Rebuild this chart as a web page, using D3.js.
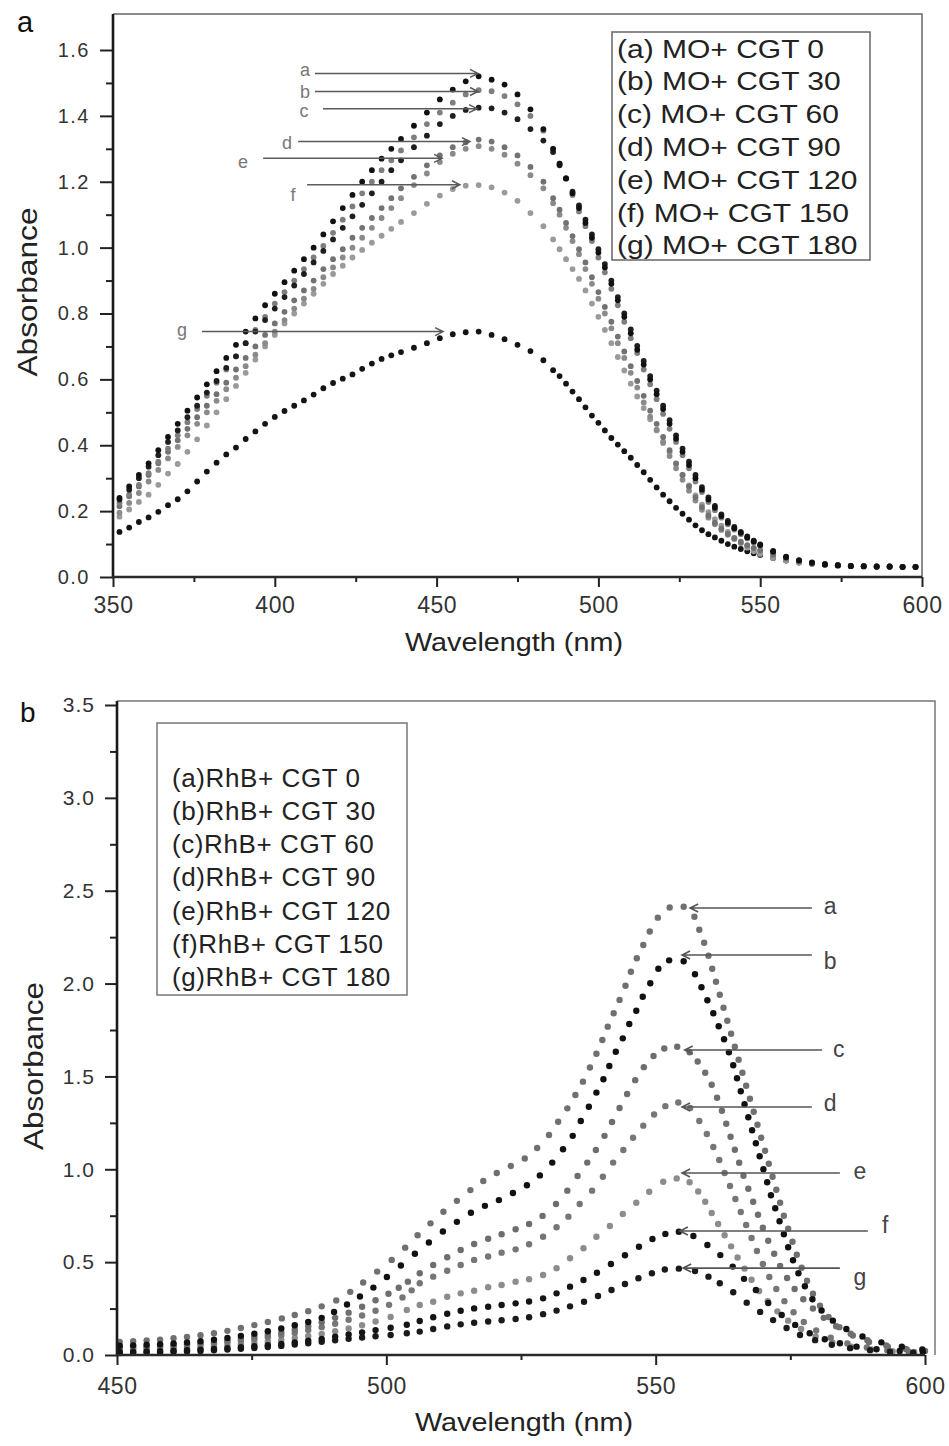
<!DOCTYPE html>
<html>
<head>
<meta charset="utf-8">
<script src="https://cdn.jsdelivr.net/npm/d3@7"></script>
<style>
body { margin: 0; background: #fff; }
svg { display: block; }
text { font-family: "Liberation Sans", Arial, sans-serif; }
</style>
</head>
<body>
<div id="plot"></div>
<script>
// ---------- panel a : MO spectra (shared wavelength grid) ----------
const moWave = [352,355,358,361,364,367,370,373,376,379,382,385,388,391,394,397,400,403,406,409,412,415,418,421,424,427,430,433,436,439,
  443,447,451,455,459,463,467,471,475,479,483,
  486,488,490,492,494,496,498,500,502,504,506,508,510,512,514,516,518,520,522,524,526,528,530,532,534,536,538,540,542,544,546,548,550,
  554,558,562,566,570,574,578,582,586,590,594,598];

const moA = [0.24,0.275,0.31,0.345,0.385,0.425,0.465,0.505,0.545,0.585,0.625,0.665,0.705,0.745,0.785,0.825,0.86,0.895,0.93,0.965,1.0,1.04,1.08,1.12,1.16,1.2,1.235,1.27,1.30,1.33,
  1.37,1.41,1.45,1.48,1.505,1.52,1.51,1.495,1.465,1.42,1.36,
  1.30,1.255,1.21,1.165,1.12,1.075,1.03,0.985,0.94,0.89,0.84,0.79,0.74,0.69,0.645,0.60,0.555,0.51,0.465,0.42,0.38,0.34,0.30,0.265,0.235,0.21,0.185,0.165,0.148,0.134,0.12,0.108,0.097,
  0.077,0.06,0.05,0.043,0.038,0.035,0.033,0.032,0.031,0.031,0.03,0.03];
const moB = [0.225,0.25,0.28,0.315,0.35,0.39,0.43,0.47,0.51,0.55,0.59,0.63,0.67,0.71,0.75,0.79,0.83,0.865,0.9,0.935,0.97,1.005,1.045,1.085,1.125,1.165,1.2,1.235,1.265,1.295,
  1.335,1.375,1.41,1.44,1.465,1.478,1.475,1.46,1.435,1.40,1.355,
  1.30,1.255,1.21,1.16,1.11,1.065,1.02,0.97,0.925,0.875,0.825,0.775,0.725,0.68,0.63,0.585,0.54,0.495,0.45,0.41,0.37,0.33,0.29,0.258,0.228,0.203,0.18,0.16,0.144,0.13,0.117,0.105,0.095,
  0.076,0.059,0.049,0.043,0.038,0.035,0.033,0.032,0.031,0.031,0.03,0.03];
const moC = [0.235,0.265,0.30,0.335,0.37,0.41,0.445,0.485,0.52,0.56,0.595,0.635,0.67,0.71,0.745,0.78,0.815,0.85,0.885,0.92,0.955,0.99,1.025,1.06,1.095,1.13,1.165,1.20,1.235,1.265,
  1.305,1.34,1.375,1.40,1.418,1.425,1.423,1.41,1.39,1.36,1.325,
  1.29,1.25,1.21,1.17,1.128,1.085,1.04,0.995,0.95,0.90,0.85,0.80,0.752,0.702,0.656,0.61,0.566,0.52,0.476,0.43,0.39,0.35,0.31,0.273,0.242,0.216,0.19,0.17,0.152,0.137,0.123,0.11,0.099,
  0.079,0.062,0.051,0.044,0.039,0.036,0.034,0.033,0.032,0.032,0.031,0.031];
const moD = [0.215,0.245,0.275,0.31,0.345,0.38,0.415,0.45,0.485,0.52,0.555,0.59,0.63,0.665,0.70,0.735,0.77,0.805,0.84,0.87,0.90,0.935,0.965,0.995,1.03,1.06,1.09,1.12,1.15,1.18,
  1.215,1.25,1.28,1.305,1.32,1.328,1.322,1.305,1.28,1.245,1.20,
  1.15,1.115,1.075,1.035,0.995,0.955,0.91,0.865,0.82,0.775,0.73,0.685,0.64,0.595,0.55,0.505,0.465,0.425,0.385,0.345,0.31,0.275,0.242,0.212,0.187,0.165,0.147,0.131,0.118,0.107,0.097,0.088,0.081,
  0.068,0.057,0.049,0.043,0.039,0.036,0.034,0.033,0.032,0.032,0.031,0.031];
const moE = [0.195,0.225,0.255,0.29,0.325,0.36,0.395,0.43,0.465,0.50,0.535,0.57,0.605,0.64,0.675,0.71,0.745,0.78,0.815,0.845,0.875,0.91,0.94,0.97,1.0,1.03,1.06,1.09,1.12,1.15,
  1.19,1.225,1.26,1.285,1.30,1.308,1.30,1.282,1.255,1.22,1.18,
  1.135,1.10,1.06,1.02,0.98,0.935,0.89,0.845,0.80,0.755,0.71,0.665,0.62,0.575,0.53,0.487,0.447,0.407,0.367,0.33,0.295,0.262,0.232,0.204,0.18,0.16,0.143,0.128,0.115,0.104,0.095,0.087,0.08,
  0.067,0.056,0.048,0.043,0.039,0.036,0.034,0.033,0.032,0.032,0.031,0.031];
const moF = [0.183,0.205,0.228,0.25,0.28,0.314,0.343,0.38,0.418,0.46,0.50,0.54,0.58,0.62,0.66,0.70,0.735,0.77,0.80,0.83,0.86,0.89,0.92,0.945,0.97,0.993,1.015,1.036,1.057,1.078,
  1.105,1.133,1.158,1.178,1.188,1.19,1.183,1.167,1.142,1.105,1.065,
  1.025,0.995,0.965,0.935,0.905,0.87,0.83,0.79,0.75,0.71,0.668,0.627,0.587,0.548,0.513,0.479,0.445,0.412,0.378,0.343,0.31,0.278,0.248,0.22,0.197,0.176,0.156,0.137,0.119,0.103,0.089,0.078,0.07,
  0.058,0.05,0.044,0.04,0.037,0.035,0.034,0.033,0.032,0.032,0.031,0.031];
const moG = [0.137,0.150,0.167,0.181,0.198,0.218,0.236,0.26,0.29,0.32,0.347,0.372,0.393,0.419,0.442,0.465,0.486,0.504,0.52,0.536,0.554,0.573,0.589,0.602,0.615,0.632,0.648,0.662,0.673,0.683,
  0.696,0.71,0.725,0.737,0.743,0.745,0.735,0.722,0.705,0.686,0.658,
  0.628,0.61,0.587,0.563,0.54,0.515,0.49,0.468,0.445,0.422,0.402,0.382,0.362,0.34,0.318,0.295,0.272,0.25,0.23,0.21,0.192,0.174,0.157,0.142,0.13,0.12,0.11,0.1,0.092,0.085,0.078,0.072,0.067,
  0.058,0.05,0.044,0.04,0.037,0.035,0.034,0.033,0.032,0.032,0.031,0.031];

const moLegend = ["(a) MO+ CGT 0","(b) MO+ CGT 30","(c) MO+ CGT 60","(d) MO+ CGT 90","(e) MO+ CGT 120","(f) MO+ CGT 150","(g) MO+ CGT 180"];
const moXTicks = [350,400,450,500,550,600];
const moYTicks = [0,0.2,0.4,0.6,0.8,1.0,1.2,1.4,1.6];
// arrow annotations: label, start wavelength, tip wavelength, absorbance, label position
const moArrows = [
  {k:"a", x1:412.4, x2:462.8, y:1.529, lx:409.3, ly:1.541},
  {k:"b", x1:412.4, x2:462.8, y:1.474, lx:409.3, ly:1.474},
  {k:"c", x1:414.9, x2:462.5, y:1.422, lx:409.0, ly:1.416},
  {k:"d", x1:407.2, x2:460.3, y:1.322, lx:403.8, ly:1.319},
  {k:"e", x1:396.4, x2:451.7, y:1.271, lx:390.2, ly:1.261},
  {k:"f", x1:410.0, x2:457.2, y:1.191, lx:405.6, ly:1.161},
  {k:"g", x1:377.5, x2:452.0, y:0.745, lx:371.3, ly:0.751}
];

// ---------- panel b : RhB spectra ([wavelength, absorbance]) ----------
const rhbA = [[450.5,0.07],[453,0.074],[455.5,0.078],[458,0.083],[460.5,0.09],[463,0.097],[465.5,0.106],[468,0.117],[470.5,0.13],[473,0.145],[475.5,0.161],[478,0.178],[480.6,0.197],[483,0.215],[485.5,0.236],[488,0.262],[490.7,0.294],[493.3,0.34],[495.7,0.39],[498.3,0.449],[501,0.512],[503.5,0.578],[505.8,0.645],[508.2,0.709],[510.6,0.771],[513.1,0.83],[515.6,0.888],[518,0.937],[520.5,0.98],[523.1,1.018],[525.7,1.058],[528,1.115],[530.2,1.185],[531.9,1.256],[533.6,1.328],[535.1,1.4],[536.5,1.472],[537.8,1.548],[539,1.622],[540.1,1.696],[541.1,1.768],[542.2,1.84],[543.3,1.912],[544.4,1.988],[545.4,2.064],[546.5,2.136],[547.7,2.208],[548.9,2.28],[550.4,2.355],[552.6,2.41],[555.2,2.414],[557.2,2.36],[558.1,2.29],[559,2.22],[559.8,2.15],[560.5,2.08],[561.2,2.01],[561.9,1.94],[562.6,1.87],[563.3,1.80],[564,1.73],[564.7,1.66],[565.4,1.59],[566.1,1.52],[566.8,1.45],[567.5,1.38],[568.2,1.31],[568.9,1.24],[569.6,1.17],[570.3,1.10],[571,1.03],[571.7,0.96],[572.4,0.89],[573.1,0.82],[573.8,0.75],[574.6,0.68],[575.4,0.61],[576.2,0.54],[577.1,0.47],[578.1,0.40],[579.2,0.33],[580.5,0.265],[582.1,0.205],[584.1,0.15],[586.6,0.105],[589.6,0.07],[593.1,0.045],[596.6,0.03],[599.8,0.022]];
const rhbB = [[450.5,0.05],[453,0.052],[455.5,0.055],[458,0.058],[460.5,0.062],[463,0.067],[465.5,0.074],[468,0.082],[470.5,0.092],[473,0.103],[475.5,0.115],[478,0.128],[480.5,0.143],[483,0.16],[485.5,0.178],[488,0.2],[490.3,0.232],[492.7,0.272],[495.1,0.315],[497.6,0.363],[500.1,0.42],[502.7,0.482],[505.3,0.545],[507.9,0.606],[510.5,0.665],[513.1,0.717],[515.7,0.766],[518.3,0.803],[520.9,0.834],[523.5,0.872],[526.1,0.914],[528.5,0.967],[530.8,1.036],[532.8,1.108],[534.6,1.18],[536.1,1.26],[537.6,1.337],[539,1.413],[540.3,1.485],[541.4,1.556],[542.6,1.633],[543.9,1.705],[545.1,1.782],[546.4,1.854],[547.6,1.929],[549,2.002],[550.5,2.08],[552.5,2.125],[555.2,2.12],[557.3,2.05],[558.5,1.98],[559.6,1.91],[560.7,1.84],[561.7,1.77],[562.7,1.70],[563.6,1.63],[564.4,1.56],[565.1,1.49],[565.8,1.42],[566.5,1.35],[567.2,1.28],[567.9,1.21],[568.6,1.14],[569.3,1.07],[570,1.0],[570.7,0.93],[571.4,0.86],[572.2,0.79],[573,0.72],[573.8,0.65],[574.6,0.58],[575.5,0.51],[576.5,0.44],[577.7,0.37],[579.1,0.30],[580.8,0.24],[582.9,0.185],[585.4,0.14],[588.4,0.10],[591.9,0.068],[595.7,0.045],[599.5,0.03]];
const rhbC = [[450.5,0.042],[453,0.044],[455.5,0.046],[458,0.049],[460.5,0.053],[463,0.058],[465.5,0.064],[468,0.071],[470.5,0.079],[473,0.088],[475.5,0.098],[478,0.109],[480.5,0.122],[483,0.137],[485.5,0.155],[488,0.176],[490.5,0.2],[493,0.228],[495.5,0.26],[498,0.295],[500.4,0.33],[502.3,0.362],[504,0.395],[506.2,0.44],[508.7,0.485],[511.3,0.526],[513.8,0.565],[516.3,0.598],[518.9,0.626],[521.4,0.65],[524,0.677],[526.5,0.705],[529,0.749],[531.5,0.813],[533.6,0.885],[535.5,0.964],[537.3,1.036],[538.9,1.104],[540.5,1.18],[541.9,1.255],[543.3,1.33],[544.7,1.405],[546.2,1.48],[547.8,1.55],[549.6,1.61],[551.6,1.65],[554,1.66],[556.3,1.63],[557.8,1.58],[559.2,1.52],[560.4,1.455],[561.4,1.385],[562.3,1.315],[563.1,1.245],[563.9,1.175],[564.7,1.105],[565.5,1.035],[566.3,0.965],[567.2,0.895],[568.1,0.825],[569,0.755],[569.9,0.685],[570.9,0.615],[572,0.545],[573.1,0.48],[574.4,0.415],[575.8,0.355],[577.4,0.30],[579.2,0.25],[581.2,0.2],[583.5,0.155],[586.2,0.115],[589.3,0.08],[592.8,0.052],[596.4,0.033],[600,0.022]];
const rhbD = [[450.5,0.036],[453,0.038],[455.5,0.04],[458,0.043],[460.5,0.046],[463,0.05],[465.5,0.055],[468,0.061],[470.5,0.068],[473,0.076],[475.5,0.085],[478,0.095],[480.5,0.106],[483,0.119],[485.5,0.134],[488,0.15],[490.5,0.168],[493,0.19],[495.5,0.213],[498,0.238],[500.5,0.27],[503,0.31],[504.7,0.348],[506.2,0.386],[508.7,0.422],[511.3,0.454],[513.8,0.485],[516.3,0.512],[518.9,0.53],[521.4,0.551],[524,0.569],[526.5,0.596],[529.1,0.637],[531.6,0.688],[533.8,0.745],[535.9,0.813],[538.2,0.885],[540.2,0.96],[542.1,1.036],[544,1.104],[545.8,1.17],[547.7,1.235],[549.7,1.295],[551.8,1.34],[554.2,1.36],[556.4,1.33],[558.1,1.26],[559.5,1.19],[560.7,1.12],[561.8,1.05],[562.8,0.98],[563.8,0.91],[564.8,0.84],[565.8,0.77],[566.8,0.70],[567.8,0.63],[568.8,0.56],[569.9,0.49],[571.1,0.42],[572.4,0.355],[573.9,0.29],[575.6,0.23],[577.5,0.178],[579.8,0.132],[582.5,0.093],[585.6,0.062],[589.2,0.04],[593,0.026],[597,0.018]];
const rhbE = [[450.5,0.026],[453,0.027],[455.5,0.029],[458,0.031],[460.5,0.034],[463,0.037],[465.5,0.041],[468,0.046],[470.5,0.051],[473,0.057],[475.5,0.064],[478,0.072],[480.5,0.081],[483,0.091],[485.5,0.102],[488,0.114],[490.5,0.128],[493,0.143],[495.5,0.16],[498,0.18],[500.8,0.205],[503.8,0.242],[506.2,0.269],[508.7,0.287],[511.3,0.314],[513.8,0.332],[516.3,0.346],[518.9,0.365],[521.4,0.377],[524,0.395],[526.5,0.408],[529.1,0.431],[531.6,0.467],[534.1,0.521],[536.6,0.575],[539,0.637],[541.5,0.695],[543.9,0.759],[546.4,0.82],[548.8,0.879],[551.4,0.933],[553.9,0.951],[556.3,0.93],[557.9,0.88],[559.2,0.825],[560.4,0.765],[561.6,0.705],[562.8,0.645],[564,0.585],[565.2,0.525],[566.5,0.465],[567.8,0.405],[569.2,0.345],[570.8,0.29],[572.6,0.235],[574.6,0.185],[577,0.14],[579.7,0.10],[582.8,0.068],[586.3,0.045],[590,0.03],[594,0.021],[598,0.016]];
const rhbF = [[450.5,0.016],[453,0.017],[455.5,0.019],[458,0.021],[460.5,0.023],[463,0.026],[465.5,0.029],[468,0.033],[470.5,0.037],[473,0.042],[475.5,0.047],[478,0.053],[480.5,0.06],[483,0.068],[485.5,0.077],[488,0.087],[490.5,0.098],[493,0.11],[495.5,0.122],[498,0.134],[500.8,0.147],[503.8,0.163],[506.2,0.183],[508.7,0.203],[511.3,0.222],[513.8,0.238],[516.3,0.251],[518.9,0.26],[521.4,0.269],[524,0.278],[526.5,0.288],[529.1,0.305],[531.6,0.332],[534.1,0.368],[536.6,0.404],[539.1,0.443],[541.7,0.49],[544.3,0.537],[546.9,0.583],[549.4,0.625],[551.8,0.652],[554.3,0.664],[557,0.641],[559.6,0.592],[562,0.538],[564.3,0.476],[566.4,0.41],[568.6,0.35],[570.9,0.28],[573.4,0.215],[575.9,0.162],[578.6,0.117],[581.4,0.085],[584.2,0.063],[587.3,0.045],[591,0.031],[595.3,0.022],[599.6,0.016]];
const rhbG = [[450.5,0.011],[453,0.012],[455.5,0.013],[458,0.015],[460.5,0.017],[463,0.019],[465.5,0.022],[468,0.025],[470.5,0.029],[473,0.033],[475.5,0.038],[478,0.043],[480.5,0.049],[483,0.056],[485.5,0.063],[488,0.071],[490.5,0.079],[493,0.087],[495.5,0.094],[498,0.101],[500.8,0.108],[503.8,0.117],[506.2,0.126],[508.7,0.14],[511.3,0.154],[513.8,0.165],[516.3,0.174],[518.9,0.18],[521.4,0.187],[524,0.194],[526.5,0.203],[529.1,0.22],[531.6,0.239],[534.1,0.262],[536.7,0.287],[539.3,0.318],[541.8,0.35],[544.3,0.382],[546.8,0.413],[549.3,0.44],[551.7,0.46],[554.3,0.465],[557.3,0.452],[559.8,0.422],[561.9,0.386],[564.4,0.338],[566.9,0.282],[569.4,0.232],[571.8,0.188],[574.3,0.145],[576.8,0.108],[579.6,0.08],[582.7,0.055],[586.1,0.037],[589.8,0.026],[593.5,0.018],[597.8,0.012]];

const rhbLegend = ["(a)RhB+ CGT 0","(b)RhB+ CGT 30","(c)RhB+ CGT 60","(d)RhB+ CGT 90","(e)RhB+ CGT 120","(f)RhB+ CGT 150","(g)RhB+ CGT 180"];
const rhbXTicks = [450,500,550,600];
const rhbYTicks = [0,0.5,1.0,1.5,2.0,2.5,3.0,3.5];
const rhbArrows = [
  {k:"a", x1:579.0, x2:556.4, y:2.407, lx:582.4, ly:2.418},
  {k:"b", x1:579.0, x2:554.9, y:2.154, lx:582.4, ly:2.122},
  {k:"c", x1:580.9, x2:555.4, y:1.642, lx:584.0, ly:1.648},
  {k:"d", x1:579.0, x2:554.9, y:1.335, lx:582.4, ly:1.357},
  {k:"e", x1:584.2, x2:554.9, y:0.980, lx:587.9, ly:0.991},
  {k:"f", x1:589.4, x2:554.5, y:0.668, lx:592.6, ly:0.700},
  {k:"g", x1:584.2, x2:555.1, y:0.468, lx:587.9, ly:0.420}
];

// ---------- drawing ----------
const svg = d3.select("#plot").append("svg")
    .attr("width", 949)
    .attr("height", 1446);

function drawDots(data, x, y, color, r) {
    svg.append("g").selectAll("circle").data(data).join("circle")
        .attr("cx", d => x(d[0]))
        .attr("cy", d => y(d[1]))
        .attr("r", r)
        .attr("fill", color);
}

function drawArrow(a, x, y, color, width) {
    const x1 = x(a.x1), x2 = x(a.x2), yy = y(a.y);
    const dir = x2 > x1 ? 1 : -1;
    svg.append("path")
        .attr("d", `M${x1},${yy}L${x2},${yy}M${x2 - dir * 8},${yy - 4}L${x2},${yy}L${x2 - dir * 8},${yy + 4}`)
        .attr("fill", "none")
        .attr("stroke", color)
        .attr("stroke-width", width);
}

function drawFrame(x, y, left, right, top, bottom, frameColor) {
    // top and right frame (thin, gray)
    svg.append("path")
        .attr("d", `M${left},${top}L${right},${top}L${right},${bottom}`)
        .attr("fill", "none").attr("stroke", frameColor).attr("stroke-width", 1.5);
    // left & bottom axis lines (thick)
    svg.append("line").attr("x1", left).attr("x2", left).attr("y1", top).attr("y2", bottom + 1)
        .attr("stroke", "#1a1a1a").attr("stroke-width", 2.6);
    svg.append("line").attr("x1", left - 1).attr("x2", x.range()[1]).attr("y1", bottom).attr("y2", bottom)
        .attr("stroke", "#2a2a2a").attr("stroke-width", 2.4);
}

function drawAxes(x, y, o) {
    const bottom = y(0), left = x.range()[0];
    const gx = svg.append("g").attr("transform", `translate(0,${bottom})`)
        .call(d3.axisBottom(x).tickValues(o.xTicks).tickSize(10).tickSizeOuter(0).tickPadding(o.xPad).tickFormat(d3.format("d")));
    gx.selectAll("text").attr("font-size", o.xFont).attr("fill", "#333").style("letter-spacing", "0.5px")
        .style("font-family", "Liberation Sans, Arial, sans-serif");
    svg.append("g").attr("transform", `translate(0,${bottom})`)
        .call(d3.axisBottom(x).tickValues(o.xMinor).tickSize(5).tickSizeOuter(0).tickFormat(""));
    const gy = svg.append("g").attr("transform", `translate(${left},0)`)
        .call(d3.axisLeft(y).tickValues(o.yTicks).tickSize(o.yTick).tickSizeOuter(0).tickPadding(o.yPad).tickFormat(d3.format(".1f")));
    gy.selectAll("text").attr("font-size", o.yFont).attr("fill", "#333").style("letter-spacing", o.ySpace)
        .style("font-family", "Liberation Sans, Arial, sans-serif");
    svg.append("g").attr("transform", `translate(${left},0)`)
        .call(d3.axisLeft(y).tickValues(o.yMinor).tickSize(7).tickSizeOuter(0).tickFormat(""));
    svg.selectAll(".domain").remove();
    svg.selectAll(".tick line").attr("stroke", "#222").attr("stroke-width", 2);
}

// ----- panel a -----
const xa = d3.scaleLinear().domain([350, 600]).range([113, 922]);
const ya = d3.scaleLinear().domain([0, 1.6]).range([577, 50]);

const moSeries = [
    {v: moG, c: "#141414"}, {v: moF, c: "#9a9a9a"}, {v: moE, c: "#8a8a8a"},
    {v: moD, c: "#727272"}, {v: moB, c: "#7e7e7e"}, {v: moC, c: "#1e1e1e"}, {v: moA, c: "#111"}
];
moSeries.forEach(s => drawDots(moWave.map((w, i) => [w, s.v[i]]), xa, ya, s.c, 2.9));

drawAxes(xa, ya, {
    xTicks: moXTicks, xMinor: [375,425,475,525,575], xPad: 10, xFont: 23,
    yTicks: moYTicks, yMinor: [0.1,0.3,0.5,0.7,0.9,1.1,1.3,1.5], yTick: 13, yPad: 10, yFont: 20, ySpace: "1.5px"
});
drawFrame(xa, ya, 113, 922, 14, 577, "#666");

moArrows.forEach(a => {
    drawArrow(a, xa, ya, "#5a5a5a", 1.5);
    svg.append("text").attr("x", xa(a.lx)).attr("y", ya(a.ly)).attr("dy", "0.35em")
        .attr("text-anchor", "middle").attr("font-size", 18).attr("fill", "#777").text(a.k);
});

// legend a
svg.append("rect").attr("x", 612).attr("y", 32).attr("width", 258).attr("height", 228)
    .attr("fill", "none").attr("stroke", "#666").attr("stroke-width", 1.5);
moLegend.forEach((t, i) => {
    svg.append("text")
        .attr("transform", `translate(617,${57.5 + i * 32.8}) scale(1.2,1)`)
        .attr("font-size", 25).attr("fill", "#222").text(t);
});

svg.append("text").attr("x", 17).attr("y", 32).attr("font-size", 29).attr("fill", "#111").text("a");
svg.append("text").attr("transform", "translate(37,292) rotate(-90)").attr("text-anchor", "middle")
    .attr("font-size", 27).attr("fill", "#222").attr("textLength", 169).attr("lengthAdjust", "spacingAndGlyphs").text("Absorbance");
svg.append("text").attr("x", 514).attr("y", 651).attr("text-anchor", "middle")
    .attr("font-size", 26).attr("fill", "#222").attr("textLength", 218).attr("lengthAdjust", "spacingAndGlyphs").text("Wavelength (nm)");

// ----- panel b -----
const xb = d3.scaleLinear().domain([450, 600]).range([117, 925]);
const yb = d3.scaleLinear().domain([0, 3.5]).range([1355, 705]);

const rhbSeries = [
    {v: rhbE, c: "#8c8c8c"}, {v: rhbD, c: "#767676"}, {v: rhbC, c: "#6e6e6e"}, {v: rhbA, c: "#707070"},
    {v: rhbG, c: "#1a1a1a"}, {v: rhbF, c: "#141414"}, {v: rhbB, c: "#111"}
];
rhbSeries.forEach(s => drawDots(s.v, xb, yb, s.c, 3.2));

drawAxes(xb, yb, {
    xTicks: rhbXTicks, xMinor: [475,525,575], xPad: 13, xFont: 23,
    yTicks: rhbYTicks, yMinor: [0.25,0.75,1.25,1.75,2.25,2.75,3.25], yTick: 12, yPad: 10, yFont: 21, ySpace: "1px"
});
drawFrame(xb, yb, 117, 935, 701, 1355, "#777");

rhbArrows.forEach(a => {
    drawArrow(a, xb, yb, "#555", 1.6);
    svg.append("text").attr("x", xb(a.lx)).attr("y", yb(a.ly)).attr("dy", "0.35em")
        .attr("text-anchor", "middle").attr("font-size", 23).attr("fill", "#444").text(a.k);
});

// legend b
svg.append("rect").attr("x", 157).attr("y", 723).attr("width", 250).attr("height", 272)
    .attr("fill", "none").attr("stroke", "#777").attr("stroke-width", 1.5);
rhbLegend.forEach((t, i) => {
    svg.append("text").attr("x", 172).attr("y", 786.5 + i * 33.3)
        .attr("font-size", 26).attr("fill", "#222").style("letter-spacing", "0.6px").text(t);
});

svg.append("text").attr("x", 20).attr("y", 722).attr("font-size", 28).attr("fill", "#111").text("b");
svg.append("text").attr("transform", "translate(43,1066) rotate(-90)").attr("text-anchor", "middle")
    .attr("font-size", 27).attr("fill", "#222").attr("textLength", 168).attr("lengthAdjust", "spacingAndGlyphs").text("Absorbance");
svg.append("text").attr("x", 524).attr("y", 1431).attr("text-anchor", "middle")
    .attr("font-size", 25).attr("fill", "#222").attr("textLength", 218).attr("lengthAdjust", "spacingAndGlyphs").text("Wavelength (nm)");
</script>
</body>
</html>
